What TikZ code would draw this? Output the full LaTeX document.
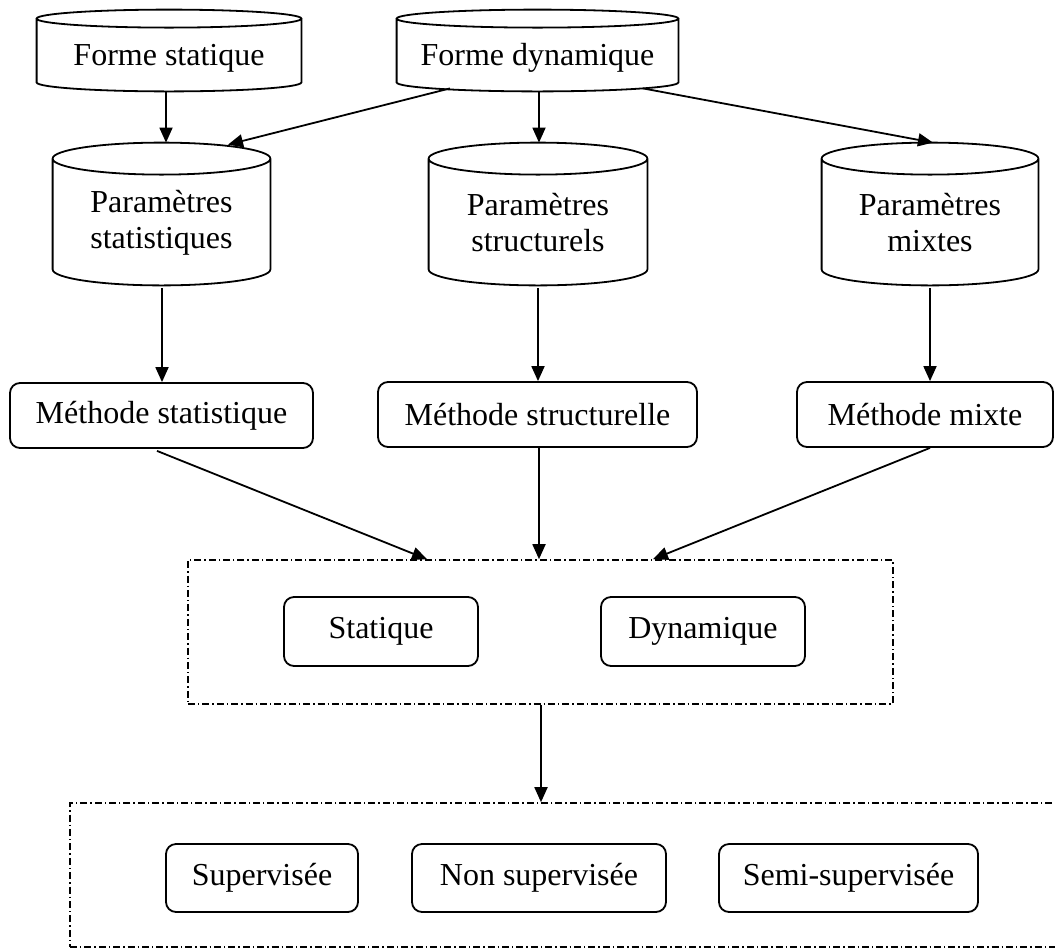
\documentclass[tikz,border=0pt]{standalone}
\usepackage{fontspec}
\setmainfont{Liberation Serif}
\usetikzlibrary{arrows.meta,calc}
\tikzset{
  lw/.style={line width=0.9pt},
  arr/.style={lw,-{Triangle[length=7.5pt,width=6.5pt]}},
  cylbox/.style={inner sep=0pt, draw=none},
  lbl/.style={font=\fontsize{16}{18}\selectfont, align=center, inner sep=0pt},
  rbox/.style={draw, lw, rounded corners=5pt, inner sep=0pt, font=\fontsize{16}{18}\selectfont},
  dashdotbox/.style={draw, line width=0.8pt, dash pattern=on 3.5pt off 1.5pt on 0.7pt off 1.5pt, inner sep=0pt},
}
\newcommand\cylout[2]{%
  \draw[lw] let \p1=(#1.north west), \p2=(#1.south east), \n1={(\x2-\x1)/2} in
    ({(\x1+\x2)/2},{\y1-#2}) ellipse [x radius=\n1, y radius=#2]
    (\x1,{\y1-#2}) -- (\x1,{\y2+#2}) arc [start angle=180, end angle=360, x radius=\n1, y radius=#2] -- (\x2,{\y1-#2});
}
\begin{document}
\begin{tikzpicture}[x=0.5pt,y=-0.5pt]
\useasboundingbox (0,0) rectangle (1055,949);
% cylinders (top row)
\node[cylbox, minimum width=132pt, minimum height=40.5pt] (fs) at (169,50.5) {};
\node[cylbox, minimum width=140.5pt, minimum height=40.5pt] (fd) at (537.5,50.5) {};
\cylout{fs}{4.5pt}
\cylout{fd}{4.5pt}
\node[lbl, anchor=base] (fst) at (169,65) {Forme statique};
\node[lbl, anchor=base] (fdt) at (537.5,65) {Forme dynamique};
% cylinders (parameters)
\node[cylbox, minimum width=108.5pt, minimum height=71pt] (ps) at (161.5,214) {};
\node[cylbox, minimum width=109pt, minimum height=71pt] (pst) at (538,214) {};
\node[cylbox, minimum width=108pt, minimum height=71pt] (pm) at (930,214) {};
\cylout{ps}{8pt}
\cylout{pst}{8pt}
\cylout{pm}{8pt}
\node[lbl] (pst1) at (161.5,222.5) {Paramètres\\statistiques};
\node[lbl] (pst2) at (538,222.5) {Paramètres\\structurels};
\node[lbl] (pst3) at (930,222.5) {Paramètres\\mixtes};
% methods
\node[rbox, minimum width=151.5pt, minimum height=32.5pt] (ms) at (161.5,415.5) {Méthode statistique};
\node[rbox, minimum width=159.5pt, minimum height=32.5pt] (mst) at (537.5,414.5) {Méthode structurelle};
\node[rbox, minimum width=128pt, minimum height=32.5pt] (mm) at (925,414.5) {Méthode mixte};
% box 1
\node[dashdotbox, minimum width=352.5pt, minimum height=72pt] (b1) at (540.5,632) {};
\node[rbox, minimum width=97pt, minimum height=34.5pt] (sta) at (381,631.5) {Statique};
\node[rbox, minimum width=102pt, minimum height=34.5pt] (dyn) at (703,631.5) {Dynamique};
% box 2
\node[dashdotbox, minimum width=497.5pt, minimum height=72pt] (b2) at (567.5,875) {};
\node[rbox, minimum width=96pt, minimum height=34pt] (sup) at (262,878) {Supervisée};
\node[rbox, minimum width=127pt, minimum height=34pt] (nsup) at (539,878) {Non supervisée};
\node[rbox, minimum width=129.5pt, minimum height=34pt] (ssup) at (848.5,878) {Semi-supervisée};
% connectors
\draw[arr] ([xshift=-1.5pt]fs.south) -- ([xshift=-1.5pt]fs.south |- ps.north);
\draw[arr] ([xshift=-43.75pt,yshift=1.5pt]fd.south) -- ([xshift=33.25pt,yshift=-1pt]ps.north);
\draw[arr] ([xshift=0.75pt]fd.south) -- ([xshift=0.75pt]fd.south |- pst.north);
\draw[arr] ([xshift=52.75pt,yshift=1.5pt]fd.south) -- ([xshift=1.5pt]pm.north);
\draw[arr] ([xshift=0.25pt,yshift=-1.5pt]ps.south) -- ([xshift=0.25pt]ps.south |- ms.north);
\draw[arr] ([yshift=-1.5pt]pst.south) -- (pst.south |- mst.north);
\draw[arr] ([yshift=-1.5pt]pm.south) -- (pm.south |- mm.north);
\draw[arr] ([xshift=-2.25pt,yshift=-1pt]ms.south) -- ([xshift=-56.75pt]b1.north);
\draw[arr] ([xshift=0.75pt]mst.south) -- ([xshift=0.75pt]mst.south |- b1.north);
\draw[arr] ([xshift=2.5pt]mm.south) -- ([xshift=56.25pt]b1.north);
\draw[arr] ([xshift=0.25pt]b1.south) -- ([xshift=0.25pt]b1.south |- b2.north);
\end{tikzpicture}
\end{document}
